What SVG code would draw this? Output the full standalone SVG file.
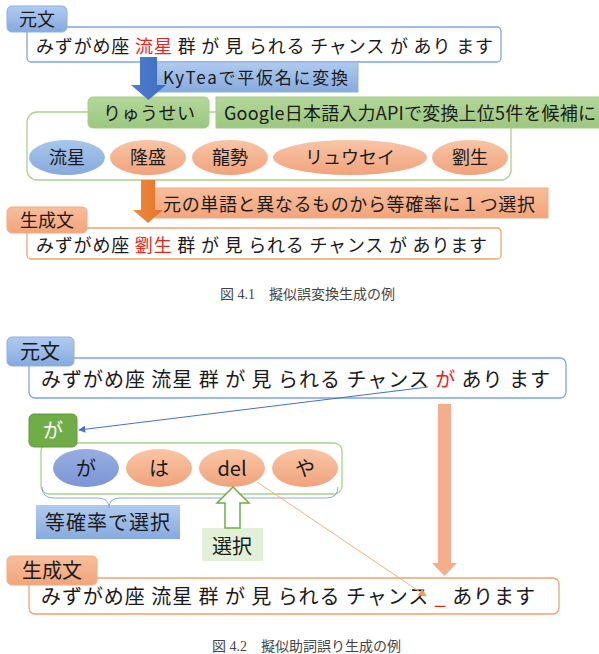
<svg xmlns="http://www.w3.org/2000/svg" width="599" height="654" viewBox="0 0 599 654">
<defs>
<linearGradient id="gBlue" x1="0" y1="0" x2="0" y2="1"><stop offset="0" stop-color="#B1CBEE"/><stop offset="1" stop-color="#85AADF"/></linearGradient>
<linearGradient id="gGreen" x1="0" y1="0" x2="0" y2="1"><stop offset="0" stop-color="#B3D79B"/><stop offset="1" stop-color="#9CC77F"/></linearGradient>
<linearGradient id="gOrange" x1="0" y1="0" x2="0" y2="1"><stop offset="0" stop-color="#F7BE9C"/><stop offset="1" stop-color="#F2A47A"/></linearGradient>
<linearGradient id="gSalmon" x1="0" y1="0" x2="0" y2="1"><stop offset="0" stop-color="#F8C5A5"/><stop offset="1" stop-color="#F1A37D"/></linearGradient>
<linearGradient id="gEllBlue" x1="0" y1="0" x2="0" y2="1"><stop offset="0" stop-color="#A7C6EA"/><stop offset="1" stop-color="#88AADF"/></linearGradient>
<linearGradient id="gEllBlue2" x1="0" y1="0" x2="0" y2="1"><stop offset="0" stop-color="#97AEE0"/><stop offset="1" stop-color="#7B96D6"/></linearGradient>
<linearGradient id="gArrowBlue" x1="0" y1="0" x2="1" y2="0"><stop offset="0" stop-color="#4F7FD0"/><stop offset="1" stop-color="#3F6CC0"/></linearGradient>
<linearGradient id="gArrowOrange" x1="0" y1="0" x2="1" y2="0"><stop offset="0" stop-color="#F08A3E"/><stop offset="1" stop-color="#E2762A"/></linearGradient>
<marker id="mBlue" viewBox="0 0 10 10" refX="9" refY="5" markerWidth="7" markerHeight="7" orient="auto" markerUnits="userSpaceOnUse"><path d="M0,0 L10,5 L0,10 z" fill="#4472C4"/></marker>
<marker id="mOrange" viewBox="0 0 10 10" refX="9" refY="5" markerWidth="8" markerHeight="8" orient="auto" markerUnits="userSpaceOnUse"><path d="M0,0 L10,5 L0,10 z" fill="#F09A5E"/></marker>
</defs>
<style>
text{font-family:"Noto Sans CJK JP","Noto Sans",sans-serif;fill:#1a1a1a;}
.f18{font-size:18px;}
.f17{font-size:17px;}
.f20{font-size:20px;}
.mid{text-anchor:middle;}
.red{fill:#E8261E;}
.cap{font-family:"Liberation Serif","Noto Sans CJK JP",serif;font-size:14px;fill:#444;}
.lblBlue{fill:url(#gBlue);stroke:#8DB0E0;stroke-width:1;}
.lblGreen{fill:url(#gGreen);stroke:#A3CC87;stroke-width:1;}
.lblOrange{fill:url(#gOrange);stroke:#F3AC83;stroke-width:1;}
.boxBlue{fill:#fff;stroke:#7EA6DB;stroke-width:1.3;}
.boxOrange{fill:#fff;stroke:#F0A272;stroke-width:1.3;}
.cont{fill:none;stroke:#A9D18E;stroke-width:1.3;}
.ellS{fill:url(#gSalmon);}
.ellB{fill:url(#gEllBlue);}
</style>

<!-- Figure 1 nodes -->
<g id="f1-sentence-src">
<rect class="boxBlue" x="27" y="27" width="474" height="35" rx="4"/>
<text class="f18" x="36" y="53" textLength="457" lengthAdjust="spacing">みずがめ座 <tspan class="red">流星</tspan> 群 が 見 られる チャンス が あり ます</text>
</g>
<g id="f1-label-src">
<rect class="lblBlue" x="7" y="6" width="60" height="26" rx="5"/>
<text class="f18 mid" x="37" y="26">元文</text>
</g>
<g id="f1-container">
<rect class="cont" x="27" y="112" width="484" height="68" rx="10"/>
</g>
<g id="f1-kytea">
<rect class="lblBlue" x="157" y="62" width="201" height="30" stroke="none"/>
<text class="f17" x="163" y="84" textLength="185" lengthAdjust="spacing">KyTeaで平仮名に変換</text>
</g>
<g id="f1-ryuusei">
<rect class="lblGreen" x="88" y="97" width="121" height="31" rx="5"/>
<text class="f18" x="103" y="120" textLength="92" lengthAdjust="spacing">りゅうせい</text>
</g>
<g id="f1-google">
<rect class="lblGreen" x="216" y="97" width="400" height="31" stroke="none"/>
<text class="f18" x="224" y="120" textLength="372" lengthAdjust="spacing">Google日本語入力APIで変換上位5件を候補に</text>
</g>
<g id="f1-c1">
<ellipse class="ellB" cx="67" cy="157.5" rx="38" ry="17.5"/>
<text class="f18 mid" x="67" y="164">流星</text>
</g>
<g id="f1-c2">
<ellipse class="ellS" cx="148" cy="157.5" rx="38" ry="17.5"/>
<text class="f18 mid" x="148" y="164">隆盛</text>
</g>
<g id="f1-c3">
<ellipse class="ellS" cx="230" cy="157.5" rx="38" ry="17.5"/>
<text class="f18 mid" x="230" y="164">龍勢</text>
</g>
<g id="f1-c4">
<ellipse class="ellS" cx="350" cy="157.5" rx="77" ry="17.5"/>
<text class="f18 mid" x="350" y="164">リュウセイ</text>
</g>
<g id="f1-c5">
<ellipse class="ellS" cx="470" cy="157.5" rx="38" ry="17.5"/>
<text class="f18 mid" x="470" y="164">劉生</text>
</g>
<g id="f1-select">
<rect class="lblOrange" x="155" y="188" width="393" height="30" stroke="none"/>
<text class="f18" x="163" y="211" textLength="372" lengthAdjust="spacing">元の単語と異なるものから等確率に１つ選択</text>
</g>
<g id="f1-sentence-gen">
<rect class="boxOrange" x="27" y="228" width="474" height="31" rx="4"/>
<text class="f18" x="36" y="252" textLength="451" lengthAdjust="spacing">みずがめ座 <tspan class="red">劉生</tspan> 群 が 見 られる チャンス が あります</text>
</g>
<g id="f1-label-gen">
<rect class="lblOrange" x="7" y="207" width="80" height="26" rx="5"/>
<text class="f18 mid" x="47" y="227">生成文</text>
</g>
<text class="cap" x="220" y="299">図 4.1　擬似誤変換生成の例</text>

<!-- Figure 2 nodes -->
<g id="f2-sentence-src">
<rect class="boxBlue" x="29" y="358" width="537" height="40" rx="6"/>
<text class="f20" x="41" y="387" textLength="509" lengthAdjust="spacing">みずがめ座 流星 群 が 見 られる チャンス <tspan class="red">が</tspan> あり ます</text>
</g>
<g id="f2-label-src">
<rect class="lblBlue" x="7" y="337" width="67" height="29" rx="5"/>
<text class="f20 mid" x="40" y="359">元文</text>
</g>
<g id="f2-container">
<rect class="cont" x="41" y="443" width="301" height="51" rx="8"/>
</g>
<g id="f2-ga">
<rect x="29" y="414" width="48" height="33" rx="5" fill="#70AD47" stroke="#5F9B3B" stroke-width="1"/>
<text class="f20 mid" x="53" y="438" style="fill:#fff">が</text>
</g>
<g id="f2-c1">
<ellipse cx="86" cy="468" rx="33" ry="19" fill="url(#gEllBlue2)"/>
<text class="f20 mid" x="86" y="476">が</text>
</g>
<g id="f2-c2">
<ellipse class="ellS" cx="159" cy="468" rx="33" ry="19"/>
<text class="f20 mid" x="159" y="476">は</text>
</g>
<g id="f2-c3">
<ellipse class="ellS" cx="232" cy="468" rx="33" ry="19"/>
<text class="f20 mid" x="232" y="476">del</text>
</g>
<g id="f2-c4">
<ellipse class="ellS" cx="305" cy="468" rx="33" ry="19"/>
<text class="f20 mid" x="305" y="476">や</text>
</g>
<g id="f2-equal">
<rect x="36" y="505" width="144" height="34" fill="url(#gBlue)"/>
<text class="f20" x="45" y="530" textLength="125" lengthAdjust="spacing">等確率で選択</text>
</g>
<g id="f2-choose">
<rect x="202" y="528" width="61" height="33" fill="#E2F0D9"/>
<text class="f20 mid" x="232" y="554">選択</text>
</g>
<g id="f2-sentence-gen">
<rect class="boxOrange" x="29" y="578" width="530" height="36" rx="6"/>
<text class="f20" x="41" y="604" textLength="494" lengthAdjust="spacing">みずがめ座 流星 群 が 見 られる チャンス <tspan class="red">_</tspan> あります</text>
</g>
<g id="f2-label-gen">
<rect class="lblOrange" x="7" y="556" width="90" height="29" rx="5"/>
<text class="f20 mid" x="52" y="578">生成文</text>
</g>
<text class="cap" x="212" y="651">図 4.2　擬似助詞誤り生成の例</text>

<!-- Connectors -->
<g id="connectors">
<polygon points="140,57 157,57 157,85 166,85 148.5,100 131,85 140,85" fill="url(#gArrowBlue)"/>
<polygon points="141,180 155,180 155,210 163,210 148,223 133,210 141,210" fill="url(#gArrowOrange)"/>
<line x1="428" y1="387" x2="79" y2="430" stroke="#4472C4" stroke-width="1" marker-end="url(#mBlue)"/>
<path d="M42,487 Q42,498 54,498 L98,498 Q109,498 109,508 Q109,498 120,498 L326,498 Q338,498 338,487" fill="none" stroke="#8FAADC" stroke-width="1"/>
<polygon points="233,487 249,503 240,503 240,528 225,528 225,503 217,503" fill="#fff" stroke="#70AD47" stroke-width="1.5"/>
<line x1="257" y1="482" x2="426" y2="596" stroke="#F4B183" stroke-width="1" marker-end="url(#mOrange)"/>
<polygon points="438,404 451,404 451,563 457,563 444.5,576 432,563 438,563" fill="#F4AE8C"/>
</g>
</svg>
